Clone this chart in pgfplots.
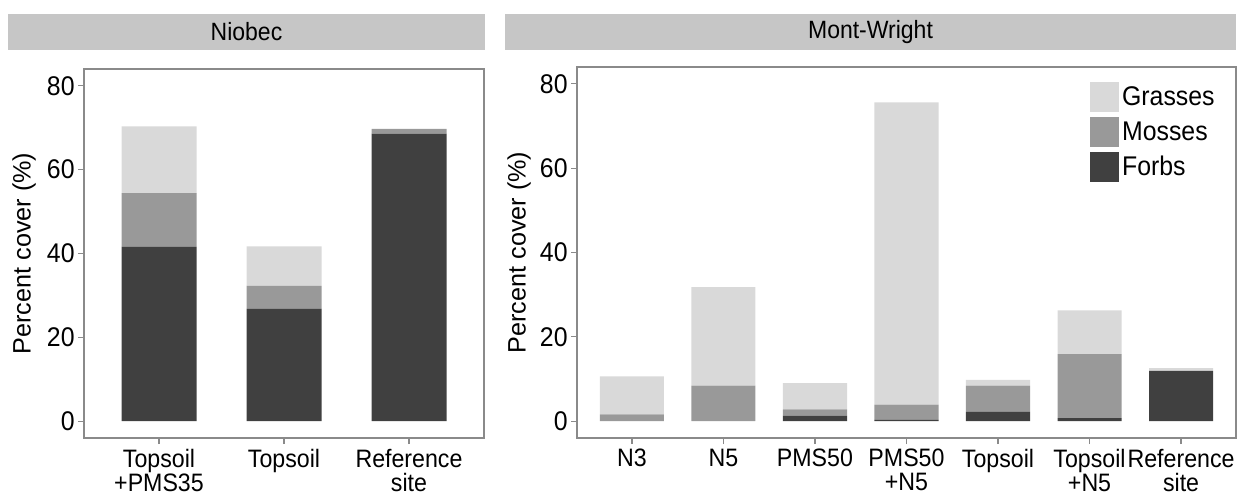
\documentclass[border=0pt]{standalone}
\usepackage{pgfplots}
\pgfplotsset{compat=1.18}
\usepackage{fontspec}
\setmainfont{Liberation Sans}[FakeStretch=0.92]
\newfontfamily\plainsans{Liberation Sans}
\definecolor{cgrass}{HTML}{D9D9D9}
\definecolor{cmoss}{HTML}{999999}
\definecolor{cforb}{HTML}{404040}
\definecolor{cstrip}{HTML}{C6C6C6}
\definecolor{cframe}{HTML}{8A8A8A}
\pgfplotsset{panel/.style={
  scale only axis, anchor=south west,
  ybar stacked, ymin=-4, ymax=84, ytick={0,20,40,60,80},
  axis line style={cframe, line width=0.6pt},
  tick style={cframe, line width=0.6pt},
  major tick length=3pt, tick align=outside,
  xtick pos=bottom, ytick pos=left,
  /pgf/number format/assume math mode=true,
  y tick label style={font=\fontsize{13.5}{13.5}\selectfont, black, inner sep=1.5pt},
  x tick label style={font=\fontsize{12.6}{12}\selectfont, black, align=center, inner sep=1.5pt, yshift=-1pt},
  ylabel style={font=\plainsans\fontsize{12.6}{12.6}\selectfont, anchor=center},
  every axis plot/.append style={draw=none},
}}
\begin{document}
\begin{tikzpicture}
\path[use as bounding box] (0,0) rectangle (626.5pt,249pt);
\fill[cstrip] (4pt,224pt) rectangle (242.5pt,242pt);
\fill[cstrip] (252.5pt,224pt) rectangle (618pt,242pt);
\node[font=\fontsize{12.5}{12.5}\selectfont] at (123.25pt,233pt) {Niobec};
\node[font=\fontsize{12.5}{12.5}\selectfont] at (435.25pt,233pt) {Mont-Wright};
\begin{axis}[panel, at={(42pt,30pt)}, width=200pt, height=184.5pt,
  xmin=0.4, xmax=3.6, bar width=0.6,
  xtick={1,2,3}, xticklabels={{Topsoil\\+PMS35},Topsoil,{Reference\\site}},
  ylabel={Percent cover (\%)},
  ylabel style={at={(axis description cs:-0.15,0.5)}}]
\addplot[fill=cforb] coordinates {(1,41.6) (2,26.8) (3,68.6)};
\addplot[fill=cmoss] coordinates {(1,12.8) (2,5.5) (3,1.1)};
\addplot[fill=cgrass] coordinates {(1,15.9) (2,9.4) (3,0)};
\end{axis}
\begin{axis}[panel, at={(288.5pt,30pt)}, width=329.5pt, height=185.5pt,
  xmin=0.4, xmax=7.6, bar width=0.7,
  xtick={1,2,3,4,5,6,7},
  xticklabels={N3,N5,PMS50,{PMS50\\+N5},Topsoil,{Topsoil\\+N5},{Reference\\site}},
  ylabel={Percent cover (\%)},
  ylabel style={at={(axis description cs:-0.088,0.5)}},
  reverse legend, legend cell align=left,
  legend image code/.code={\fill[#1] (0pt,-7.5pt) rectangle (14.5pt,7.5pt);},
  legend style={at={(0.778,0.96)}, anchor=north west, draw=none, fill=none,
    font=\fontsize{13.5}{13.5}\selectfont, row sep=2.5pt, inner sep=0pt,
    nodes={inner sep=1.5pt}}]
\addplot[fill=cforb] coordinates {(1,0) (2,0) (3,1.3) (4,0.3) (5,2.2) (6,0.7) (7,11.9)};
\addlegendentry{Forbs}
\addplot[fill=cmoss] coordinates {(1,1.6) (2,8.4) (3,1.5) (4,3.6) (5,6.2) (6,15.2) (7,0)};
\addlegendentry{Mosses}
\addplot[fill=cgrass] coordinates {(1,9.0) (2,23.4) (3,6.2) (4,71.7) (5,1.4) (6,10.4) (7,0.7)};
\addlegendentry{Grasses}
\end{axis}
\end{tikzpicture}
\end{document}
